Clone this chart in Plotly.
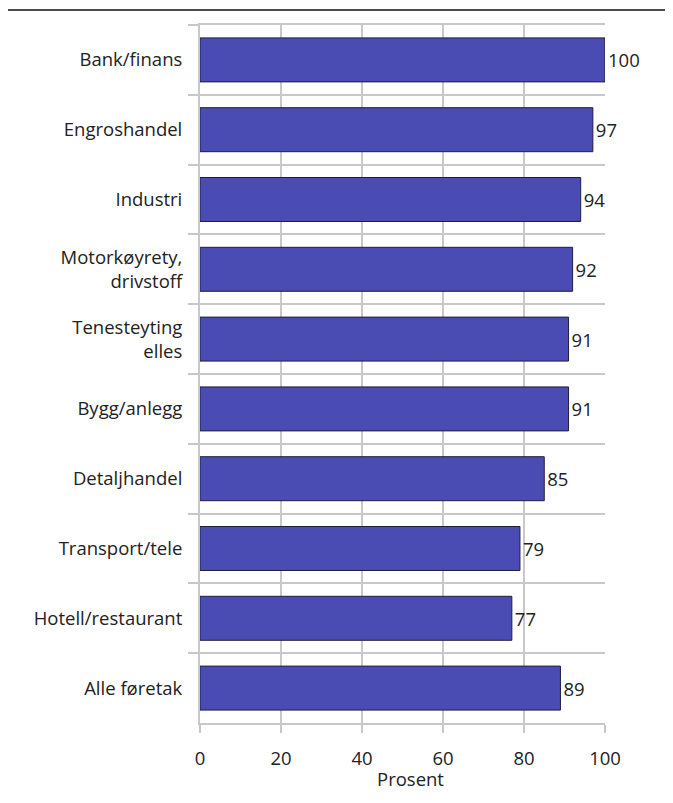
import plotly.graph_objects as go

# Andel føretak, prosent
categories = [
    "Bank/finans",
    "Engroshandel",
    "Industri",
    "Motorkøyrety,<br>drivstoff",
    "Tenesteyting<br>elles",
    "Bygg/anlegg",
    "Detaljhandel",
    "Transport/tele",
    "Hotell/restaurant",
    "Alle føretak",
]
values = [100, 97, 94, 92, 91, 91, 85, 79, 77, 89]
x_ticks = [0, 20, 40, 60, 80, 100]

W, H = 673, 803
L, R, T, B = 200, 68, 25, 80
font_family = "Open Sans, Noto Sans, DejaVu Sans, sans-serif"
fsize = 18.5
txt = "#222222"
grid = "#c8c8c8"

fig = go.Figure(
    go.Bar(
        x=values,
        y=categories,
        orientation="h",
        width=0.63,
        marker=dict(color="#4b4bb4", line=dict(color="#1e1e3c", width=1)),
        text=[str(v) for v in values],
        textposition="outside",
        textfont=dict(size=fsize, color=txt, family=font_family),
        cliponaxis=False,
    )
)

fig.update_layout(
    width=W,
    height=H,
    margin=dict(l=L, r=R, t=T, b=B),
    paper_bgcolor="white",
    plot_bgcolor="white",
    showlegend=False,
    font=dict(family=font_family, size=fsize, color=txt),
    xaxis=dict(
        range=[0, 100],
        tickvals=x_ticks,
        showgrid=True,
        gridcolor=grid,
        gridwidth=2,
        ticks="outside",
        ticklen=8,
        tickwidth=2,
        tickcolor=grid,
        zeroline=False,
        showline=True,
        mirror=True,
        linecolor=grid,
        linewidth=2,
        ticklabelstandoff=10,
        tickfont=dict(size=fsize, color=txt),
    ),
    yaxis=dict(
        type="category",
        autorange="reversed",
        tickson="boundaries",
        showgrid=True,
        gridcolor=grid,
        gridwidth=2,
        ticks="outside",
        ticklen=10,
        tickwidth=2,
        tickcolor=grid,
        showline=True,
        linecolor=grid,
        linewidth=2,
        ticklabelstandoff=12,
        tickfont=dict(size=fsize, color=txt),
    ),
)

# Axis caption under the x tick labels
fig.add_annotation(
    text="Prosent",
    xref="paper", yref="paper",
    x=0.52, y=-(778 - (H - B)) / (H - T - B),
    xanchor="center", yanchor="middle",
    showarrow=False,
    font=dict(size=fsize, color=txt),
)

# Thin rule across the top of the figure
plot_w = W - L - R
plot_h = H - T - B
fig.add_shape(
    type="line",
    xref="paper", yref="paper",
    x0=(8 - L) / plot_w, x1=(665 - L) / plot_w,
    y0=(H - B - 10) / plot_h, y1=(H - B - 10) / plot_h,
    line=dict(color="#111111", width=1.5),
)

fig.write_html("out.html")
